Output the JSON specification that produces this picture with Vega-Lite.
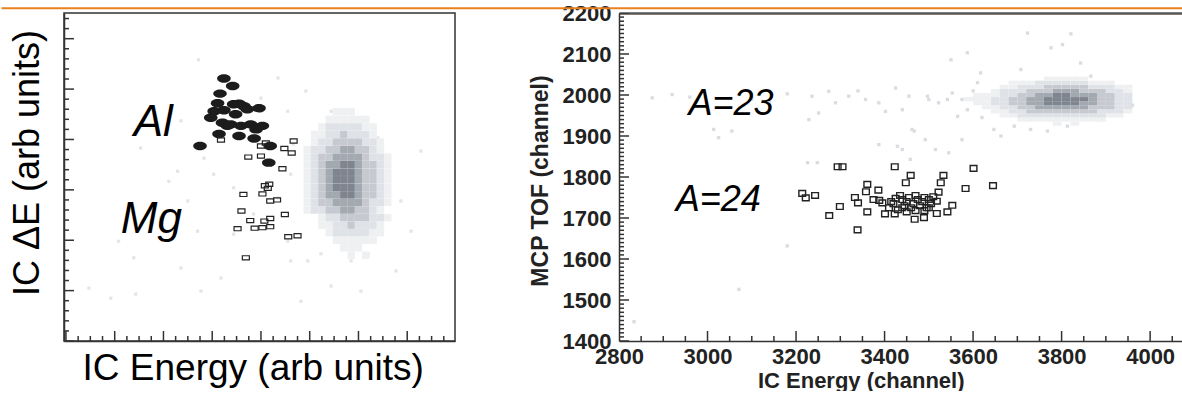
{
  "$schema": "https://vega.github.io/schema/vega-lite/v6.json",
  "padding": {"left": 0, "top": 2, "right": 0, "bottom": 0},
  "autosize": {"type": "pad"},
  "background": "white",
  "bounds": "flush",
  "spacing": 164,
  "config": {
    "font": "Liberation Sans",
    "axis": {"grid": false, "domainColor": "#333", "domainWidth": 1.5, "ticks": false, "tickSize": 0, "labelFlush": false, "labelOverlap": false, "labelBound": false, "zindex": 1}
  },
  "datasets": {
    "lxt": [
      {"v": 0, "k": "M"}, {"v": 2.5, "k": "m"}, {"v": 5, "k": "m"}, {"v": 7.5, "k": "m"}, {"v": 10, "k": "M"}, {"v": 12.5, "k": "m"}, {"v": 15, "k": "m"}, {"v": 17.5, "k": "m"},
      {"v": 20, "k": "M"}, {"v": 22.5, "k": "m"}, {"v": 25, "k": "m"}, {"v": 27.5, "k": "m"}, {"v": 30, "k": "M"}, {"v": 32.5, "k": "m"}, {"v": 35, "k": "m"}, {"v": 37.5, "k": "m"},
      {"v": 40, "k": "M"}, {"v": 42.5, "k": "m"}, {"v": 45, "k": "m"}, {"v": 47.5, "k": "m"}, {"v": 50, "k": "M"}, {"v": 52.5, "k": "m"}, {"v": 55, "k": "m"}, {"v": 57.5, "k": "m"},
      {"v": 60, "k": "M"}, {"v": 62.5, "k": "m"}, {"v": 65, "k": "m"}, {"v": 67.5, "k": "m"}, {"v": 70, "k": "M"}, {"v": 72.5, "k": "m"}, {"v": 75, "k": "m"}, {"v": 77.5, "k": "m"}
    ],
    "lyt": [
      {"v": 0, "k": "M"}, {"v": 2, "k": "m"}, {"v": 4, "k": "m"}, {"v": 6, "k": "m"}, {"v": 8, "k": "m"}, {"v": 10, "k": "M"}, {"v": 12, "k": "m"}, {"v": 14, "k": "m"}, {"v": 16, "k": "m"}, {"v": 18, "k": "m"},
      {"v": 20, "k": "M"}, {"v": 22, "k": "m"}, {"v": 24, "k": "m"}, {"v": 26, "k": "m"}, {"v": 28, "k": "m"}, {"v": 30, "k": "M"}, {"v": 32, "k": "m"}, {"v": 34, "k": "m"}, {"v": 36, "k": "m"}, {"v": 38, "k": "m"},
      {"v": 40, "k": "M"}, {"v": 42, "k": "m"}, {"v": 44, "k": "m"}, {"v": 46, "k": "m"}, {"v": 48, "k": "m"}, {"v": 50, "k": "M"}, {"v": 52, "k": "m"}, {"v": 54, "k": "m"}, {"v": 56, "k": "m"}, {"v": 58, "k": "m"},
      {"v": 60, "k": "M"}, {"v": 62, "k": "m"}, {"v": 64, "k": "m"}
    ],
    "rxt": [
      {"v": 2800, "k": "M"}, {"v": 2850, "k": "m"}, {"v": 2900, "k": "m"}, {"v": 2950, "k": "m"}, {"v": 3000, "k": "M"}, {"v": 3050, "k": "m"}, {"v": 3100, "k": "m"}, {"v": 3150, "k": "m"},
      {"v": 3200, "k": "M"}, {"v": 3250, "k": "m"}, {"v": 3300, "k": "m"}, {"v": 3350, "k": "m"}, {"v": 3400, "k": "M"}, {"v": 3450, "k": "m"}, {"v": 3500, "k": "m"}, {"v": 3550, "k": "m"},
      {"v": 3600, "k": "M"}, {"v": 3650, "k": "m"}, {"v": 3700, "k": "m"}, {"v": 3750, "k": "m"}, {"v": 3800, "k": "M"}, {"v": 3850, "k": "m"}, {"v": 3900, "k": "m"}, {"v": 3950, "k": "m"},
      {"v": 4000, "k": "M"}, {"v": 4050, "k": "m"}
    ],
    "ryt": [
      {"v": 1400, "k": "M"}, {"v": 1410, "k": "m"}, {"v": 1420, "k": "m"}, {"v": 1430, "k": "m"}, {"v": 1440, "k": "m"}, {"v": 1450, "k": "m"}, {"v": 1460, "k": "m"}, {"v": 1470, "k": "m"}, {"v": 1480, "k": "m"}, {"v": 1490, "k": "m"},
      {"v": 1500, "k": "M"}, {"v": 1510, "k": "m"}, {"v": 1520, "k": "m"}, {"v": 1530, "k": "m"}, {"v": 1540, "k": "m"}, {"v": 1550, "k": "m"}, {"v": 1560, "k": "m"}, {"v": 1570, "k": "m"}, {"v": 1580, "k": "m"}, {"v": 1590, "k": "m"},
      {"v": 1600, "k": "M"}, {"v": 1610, "k": "m"}, {"v": 1620, "k": "m"}, {"v": 1630, "k": "m"}, {"v": 1640, "k": "m"}, {"v": 1650, "k": "m"}, {"v": 1660, "k": "m"}, {"v": 1670, "k": "m"}, {"v": 1680, "k": "m"}, {"v": 1690, "k": "m"},
      {"v": 1700, "k": "M"}, {"v": 1710, "k": "m"}, {"v": 1720, "k": "m"}, {"v": 1730, "k": "m"}, {"v": 1740, "k": "m"}, {"v": 1750, "k": "m"}, {"v": 1760, "k": "m"}, {"v": 1770, "k": "m"}, {"v": 1780, "k": "m"}, {"v": 1790, "k": "m"},
      {"v": 1800, "k": "M"}, {"v": 1810, "k": "m"}, {"v": 1820, "k": "m"}, {"v": 1830, "k": "m"}, {"v": 1840, "k": "m"}, {"v": 1850, "k": "m"}, {"v": 1860, "k": "m"}, {"v": 1870, "k": "m"}, {"v": 1880, "k": "m"}, {"v": 1890, "k": "m"},
      {"v": 1900, "k": "M"}, {"v": 1910, "k": "m"}, {"v": 1920, "k": "m"}, {"v": 1930, "k": "m"}, {"v": 1940, "k": "m"}, {"v": 1950, "k": "m"}, {"v": 1960, "k": "m"}, {"v": 1970, "k": "m"}, {"v": 1980, "k": "m"}, {"v": 1990, "k": "m"},
      {"v": 2000, "k": "M"}, {"v": 2010, "k": "m"}, {"v": 2020, "k": "m"}, {"v": 2030, "k": "m"}, {"v": 2040, "k": "m"}, {"v": 2050, "k": "m"}, {"v": 2060, "k": "m"}, {"v": 2070, "k": "m"}, {"v": 2080, "k": "m"}, {"v": 2090, "k": "m"},
      {"v": 2100, "k": "M"}, {"v": 2110, "k": "m"}, {"v": 2120, "k": "m"}, {"v": 2130, "k": "m"}, {"v": 2140, "k": "m"}, {"v": 2150, "k": "m"}, {"v": 2160, "k": "m"}, {"v": 2170, "k": "m"}, {"v": 2180, "k": "m"}, {"v": 2190, "k": "m"},
      {"v": 2200, "k": "M"}
    ],
    "lsparse": [
      {"x": 27.2, "y": 55.8}, {"x": 22.9, "y": 33.7}, {"x": 21.1, "y": 31.7}, {"x": 15.3, "y": 38.3}, {"x": 10.8, "y": 19.8},
      {"x": 13.9, "y": 16.5}, {"x": 4.7, "y": 10.5}, {"x": 14.3, "y": 9.3}, {"x": 27.7, "y": 9.9}, {"x": 31.8, "y": 12.5},
      {"x": 34.4, "y": 21.2}, {"x": 19.4, "y": 24.4}, {"x": 23.6, "y": 14.5}, {"x": 27.0, "y": 21.8}, {"x": 45.5, "y": 19.8},
      {"x": 49.6, "y": 15.9}, {"x": 52.3, "y": 17.3}, {"x": 58.5, "y": 15.9}, {"x": 62.0, "y": 17.3}, {"x": 65.2, "y": 24.4},
      {"x": 66.1, "y": 33.1}, {"x": 64.0, "y": 40.3}, {"x": 59.9, "y": 42.3}, {"x": 49.2, "y": 49.6}, {"x": 45.5, "y": 45.6},
      {"x": 54.4, "y": 45.6}, {"x": 46.6, "y": 39.1}, {"x": 46.1, "y": 33.1}, {"x": 43.5, "y": 28.4}, {"x": 34.4, "y": 30.4},
      {"x": 30.3, "y": 33.1}, {"x": 28.3, "y": 36.3}, {"x": 25.0, "y": 27.8}, {"x": 9.2, "y": 8.5}, {"x": 17.4, "y": 23.8},
      {"x": 18.8, "y": 41.1}, {"x": 23.6, "y": 43.7}, {"x": 38.5, "y": 25.2}, {"x": 40.0, "y": 48.2}, {"x": 43.5, "y": 52.2},
      {"x": 68.7, "y": 27.8}, {"x": 70.8, "y": 21.8}, {"x": 67.7, "y": 13.9}, {"x": 48.2, "y": 7.9}, {"x": 54.4, "y": 10.9},
      {"x": 60.5, "y": 9.9}, {"x": 72.8, "y": 37.7}, {"x": 46.1, "y": 15.9}
    ],
    "lcells": [
      {"x": 58.5, "y": 17, "c": 1}, {"x": 61.5, "y": 17, "c": 1},
      {"x": 57, "y": 18.5, "c": 1}, {"x": 58.5, "y": 18.5, "c": 1}, {"x": 60, "y": 18.5, "c": 1},
      {"x": 55.5, "y": 20, "c": 1}, {"x": 57, "y": 20, "c": 1}, {"x": 58.5, "y": 20, "c": 1}, {"x": 60, "y": 20, "c": 1}, {"x": 61.5, "y": 20, "c": 1}, {"x": 63, "y": 20, "c": 1},
      {"x": 54, "y": 21.5, "c": 1}, {"x": 55.5, "y": 21.5, "c": 2}, {"x": 57, "y": 21.5, "c": 2}, {"x": 58.5, "y": 21.5, "c": 2}, {"x": 60, "y": 21.5, "c": 2}, {"x": 61.5, "y": 21.5, "c": 2}, {"x": 63, "y": 21.5, "c": 1}, {"x": 64.5, "y": 21.5, "c": 1},
      {"x": 52.5, "y": 23, "c": 1}, {"x": 54, "y": 23, "c": 1}, {"x": 55.5, "y": 23, "c": 2}, {"x": 57, "y": 23, "c": 2}, {"x": 58.5, "y": 23, "c": 3}, {"x": 60, "y": 23, "c": 2}, {"x": 61.5, "y": 23, "c": 2}, {"x": 63, "y": 23, "c": 2}, {"x": 64.5, "y": 23, "c": 1},
      {"x": 52.5, "y": 24.5, "c": 1}, {"x": 54, "y": 24.5, "c": 2}, {"x": 55.5, "y": 24.5, "c": 2}, {"x": 57, "y": 24.5, "c": 3}, {"x": 58.5, "y": 24.5, "c": 3}, {"x": 60, "y": 24.5, "c": 3}, {"x": 61.5, "y": 24.5, "c": 3}, {"x": 63, "y": 24.5, "c": 2}, {"x": 64.5, "y": 24.5, "c": 2}, {"x": 66, "y": 24.5, "c": 1},
      {"x": 49.5, "y": 26, "c": 1}, {"x": 51, "y": 26, "c": 2}, {"x": 52.5, "y": 26, "c": 2}, {"x": 54, "y": 26, "c": 3}, {"x": 55.5, "y": 26, "c": 3}, {"x": 57, "y": 26, "c": 4}, {"x": 58.5, "y": 26, "c": 4}, {"x": 60, "y": 26, "c": 3}, {"x": 61.5, "y": 26, "c": 3}, {"x": 63, "y": 26, "c": 2}, {"x": 64.5, "y": 26, "c": 1},
      {"x": 49.5, "y": 27.5, "c": 1}, {"x": 51, "y": 27.5, "c": 2}, {"x": 52.5, "y": 27.5, "c": 3}, {"x": 54, "y": 27.5, "c": 3}, {"x": 55.5, "y": 27.5, "c": 4}, {"x": 57, "y": 27.5, "c": 4}, {"x": 58.5, "y": 27.5, "c": 4}, {"x": 60, "y": 27.5, "c": 4}, {"x": 61.5, "y": 27.5, "c": 3}, {"x": 63, "y": 27.5, "c": 2}, {"x": 64.5, "y": 27.5, "c": 2}, {"x": 66, "y": 27.5, "c": 1},
      {"x": 49.5, "y": 29, "c": 1}, {"x": 51, "y": 29, "c": 2}, {"x": 52.5, "y": 29, "c": 3}, {"x": 54, "y": 29, "c": 4}, {"x": 55.5, "y": 29, "c": 4}, {"x": 57, "y": 29, "c": 5}, {"x": 58.5, "y": 29, "c": 5}, {"x": 60, "y": 29, "c": 4}, {"x": 61.5, "y": 29, "c": 3}, {"x": 63, "y": 29, "c": 3}, {"x": 64.5, "y": 29, "c": 2}, {"x": 66, "y": 29, "c": 1},
      {"x": 49.5, "y": 30.5, "c": 1}, {"x": 51, "y": 30.5, "c": 2}, {"x": 52.5, "y": 30.5, "c": 3}, {"x": 54, "y": 30.5, "c": 4}, {"x": 55.5, "y": 30.5, "c": 5}, {"x": 57, "y": 30.5, "c": 5}, {"x": 58.5, "y": 30.5, "c": 5}, {"x": 60, "y": 30.5, "c": 4}, {"x": 61.5, "y": 30.5, "c": 3}, {"x": 63, "y": 30.5, "c": 3}, {"x": 64.5, "y": 30.5, "c": 2}, {"x": 66, "y": 30.5, "c": 1},
      {"x": 49.5, "y": 32, "c": 1}, {"x": 51, "y": 32, "c": 2}, {"x": 52.5, "y": 32, "c": 3}, {"x": 54, "y": 32, "c": 4}, {"x": 55.5, "y": 32, "c": 5}, {"x": 57, "y": 32, "c": 5}, {"x": 58.5, "y": 32, "c": 5}, {"x": 60, "y": 32, "c": 4}, {"x": 61.5, "y": 32, "c": 3}, {"x": 63, "y": 32, "c": 3}, {"x": 64.5, "y": 32, "c": 2}, {"x": 66, "y": 32, "c": 1},
      {"x": 49.5, "y": 33.5, "c": 1}, {"x": 51, "y": 33.5, "c": 2}, {"x": 52.5, "y": 33.5, "c": 3}, {"x": 54, "y": 33.5, "c": 4}, {"x": 55.5, "y": 33.5, "c": 5}, {"x": 57, "y": 33.5, "c": 5}, {"x": 58.5, "y": 33.5, "c": 5}, {"x": 60, "y": 33.5, "c": 4}, {"x": 61.5, "y": 33.5, "c": 3}, {"x": 63, "y": 33.5, "c": 3}, {"x": 64.5, "y": 33.5, "c": 2}, {"x": 66, "y": 33.5, "c": 1},
      {"x": 49.5, "y": 35, "c": 1}, {"x": 51, "y": 35, "c": 2}, {"x": 52.5, "y": 35, "c": 3}, {"x": 54, "y": 35, "c": 4}, {"x": 55.5, "y": 35, "c": 4}, {"x": 57, "y": 35, "c": 5}, {"x": 58.5, "y": 35, "c": 5}, {"x": 60, "y": 35, "c": 4}, {"x": 61.5, "y": 35, "c": 3}, {"x": 63, "y": 35, "c": 3}, {"x": 64.5, "y": 35, "c": 2}, {"x": 66, "y": 35, "c": 1},
      {"x": 49.5, "y": 36.5, "c": 1}, {"x": 51, "y": 36.5, "c": 2}, {"x": 52.5, "y": 36.5, "c": 3}, {"x": 54, "y": 36.5, "c": 3}, {"x": 55.5, "y": 36.5, "c": 4}, {"x": 57, "y": 36.5, "c": 4}, {"x": 58.5, "y": 36.5, "c": 4}, {"x": 60, "y": 36.5, "c": 4}, {"x": 61.5, "y": 36.5, "c": 3}, {"x": 63, "y": 36.5, "c": 2}, {"x": 64.5, "y": 36.5, "c": 2}, {"x": 66, "y": 36.5, "c": 1},
      {"x": 49.5, "y": 38, "c": 1}, {"x": 51, "y": 38, "c": 2}, {"x": 52.5, "y": 38, "c": 2}, {"x": 54, "y": 38, "c": 3}, {"x": 55.5, "y": 38, "c": 3}, {"x": 57, "y": 38, "c": 4}, {"x": 58.5, "y": 38, "c": 4}, {"x": 60, "y": 38, "c": 3}, {"x": 61.5, "y": 38, "c": 3}, {"x": 63, "y": 38, "c": 2}, {"x": 64.5, "y": 38, "c": 1},
      {"x": 51, "y": 39.5, "c": 1}, {"x": 52.5, "y": 39.5, "c": 2}, {"x": 54, "y": 39.5, "c": 2}, {"x": 55.5, "y": 39.5, "c": 3}, {"x": 57, "y": 39.5, "c": 3}, {"x": 58.5, "y": 39.5, "c": 3}, {"x": 60, "y": 39.5, "c": 3}, {"x": 61.5, "y": 39.5, "c": 2}, {"x": 63, "y": 39.5, "c": 2}, {"x": 64.5, "y": 39.5, "c": 1},
      {"x": 51, "y": 41, "c": 1}, {"x": 52.5, "y": 41, "c": 1}, {"x": 54, "y": 41, "c": 2}, {"x": 55.5, "y": 41, "c": 2}, {"x": 57, "y": 41, "c": 3}, {"x": 58.5, "y": 41, "c": 2}, {"x": 60, "y": 41, "c": 2}, {"x": 61.5, "y": 41, "c": 2}, {"x": 63, "y": 41, "c": 1},
      {"x": 52.5, "y": 42.5, "c": 1}, {"x": 54, "y": 42.5, "c": 2}, {"x": 55.5, "y": 42.5, "c": 2}, {"x": 57, "y": 42.5, "c": 2}, {"x": 58.5, "y": 42.5, "c": 2}, {"x": 60, "y": 42.5, "c": 2}, {"x": 61.5, "y": 42.5, "c": 1}, {"x": 63, "y": 42.5, "c": 1},
      {"x": 54, "y": 44, "c": 1}, {"x": 55.5, "y": 44, "c": 1}, {"x": 57, "y": 44, "c": 1}, {"x": 58.5, "y": 44, "c": 1}, {"x": 60, "y": 44, "c": 1}, {"x": 61.5, "y": 44, "c": 1},
      {"x": 55.5, "y": 45.5, "c": 1}, {"x": 57, "y": 45.5, "c": 1}, {"x": 58.5, "y": 45.5, "c": 1}
    ],
    "lal": [
      {"x": 32.4, "y": 52.1}, {"x": 34.2, "y": 50.6}, {"x": 31.6, "y": 49.1}, {"x": 31.1, "y": 47.2}, {"x": 34.4, "y": 47.0},
      {"x": 35.5, "y": 47.1}, {"x": 36.5, "y": 46.6}, {"x": 32.4, "y": 45.8}, {"x": 34.8, "y": 45.0}, {"x": 37.2, "y": 46.0},
      {"x": 39.6, "y": 46.2}, {"x": 29.7, "y": 44.3}, {"x": 32.1, "y": 43.3}, {"x": 33.8, "y": 43.0}, {"x": 35.9, "y": 42.7},
      {"x": 37.9, "y": 43.0}, {"x": 40.3, "y": 42.7}, {"x": 39.0, "y": 42.0}, {"x": 31.4, "y": 41.1}, {"x": 35.5, "y": 40.7},
      {"x": 38.6, "y": 40.2}, {"x": 27.5, "y": 38.7}, {"x": 41.9, "y": 38.7}, {"x": 41.6, "y": 35.4}, {"x": 30.4, "y": 45.6},
      {"x": 33.1, "y": 42.7}
    ],
    "lmg": [
      {"x": 31.8, "y": 39.9}, {"x": 41.0, "y": 39.3}, {"x": 40.0, "y": 38.7}, {"x": 46.7, "y": 39.7}, {"x": 44.8, "y": 38.2},
      {"x": 46.3, "y": 37.3}, {"x": 37.4, "y": 36.5}, {"x": 40.0, "y": 36.7}, {"x": 44.4, "y": 34.2}, {"x": 41.7, "y": 31.1},
      {"x": 40.8, "y": 30.8}, {"x": 41.4, "y": 30.3}, {"x": 36.4, "y": 29.1}, {"x": 40.3, "y": 29.2}, {"x": 41.9, "y": 27.8},
      {"x": 43.3, "y": 28.0}, {"x": 36.0, "y": 25.8}, {"x": 44.9, "y": 25.1}, {"x": 37.8, "y": 23.9}, {"x": 40.7, "y": 23.8},
      {"x": 41.9, "y": 24.3}, {"x": 35.2, "y": 22.3}, {"x": 38.7, "y": 22.4}, {"x": 40.3, "y": 22.5}, {"x": 41.9, "y": 22.7},
      {"x": 45.6, "y": 20.7}, {"x": 47.5, "y": 20.9}, {"x": 36.9, "y": 16.5}
    ],
    "ltext": [
      {"x": 13.9, "y": 40.7, "t": "Al"},
      {"x": 11.25, "y": 21.5, "t": "Mg"}
    ],
    "rsparse": [
      {"x": 2875, "y": 1993}, {"x": 2920, "y": 2001}, {"x": 3014, "y": 1916}, {"x": 3055, "y": 1912}, {"x": 3025, "y": 1896},
      {"x": 3236, "y": 1997}, {"x": 3274, "y": 2009}, {"x": 3289, "y": 1981}, {"x": 3319, "y": 1997}, {"x": 3229, "y": 1940},
      {"x": 3251, "y": 1956}, {"x": 3357, "y": 1989}, {"x": 3387, "y": 1981}, {"x": 3402, "y": 1960}, {"x": 3425, "y": 2017},
      {"x": 3455, "y": 1997}, {"x": 3440, "y": 1964}, {"x": 3462, "y": 1916}, {"x": 3492, "y": 1891}, {"x": 3515, "y": 1867},
      {"x": 3545, "y": 1859}, {"x": 3575, "y": 1891}, {"x": 3387, "y": 1879}, {"x": 3440, "y": 1867}, {"x": 3458, "y": 1843},
      {"x": 3500, "y": 1989}, {"x": 3522, "y": 1981}, {"x": 3553, "y": 2005}, {"x": 3575, "y": 1989}, {"x": 3723, "y": 2151},
      {"x": 3821, "y": 2149}, {"x": 3587, "y": 2103}, {"x": 3550, "y": 2086}, {"x": 3071, "y": 1526}, {"x": 2834, "y": 1447},
      {"x": 3180, "y": 1632}, {"x": 3226, "y": 1835}, {"x": 3248, "y": 1835}, {"x": 3429, "y": 1875}, {"x": 3467, "y": 1912},
      {"x": 3708, "y": 2062}, {"x": 3776, "y": 2115}, {"x": 3802, "y": 2123}, {"x": 3843, "y": 2078}, {"x": 3617, "y": 2054},
      {"x": 3866, "y": 2046}, {"x": 3587, "y": 1964}, {"x": 3565, "y": 1948}, {"x": 3542, "y": 1989}, {"x": 3497, "y": 1997},
      {"x": 3647, "y": 1916}, {"x": 3693, "y": 1924}, {"x": 3730, "y": 1916}, {"x": 3768, "y": 1912}, {"x": 3813, "y": 1924},
      {"x": 3889, "y": 1940}, {"x": 3919, "y": 1997}, {"x": 3926, "y": 2013}, {"x": 3663, "y": 1900}, {"x": 3960, "y": 1975},
      {"x": 3945, "y": 2020}, {"x": 3600, "y": 2010}, {"x": 3620, "y": 1945}, {"x": 3140, "y": 1985}, {"x": 3180, "y": 2003},
      {"x": 3100, "y": 1990}, {"x": 2960, "y": 1995}, {"x": 3340, "y": 2010}, {"x": 3610, "y": 2030}
    ],
    "rcells": [
      {"x": 3790, "y": 1930, "c": 1}, {"x": 3830, "y": 1930, "c": 1},
      {"x": 3710, "y": 1940, "c": 1}, {"x": 3730, "y": 1940, "c": 1}, {"x": 3750, "y": 1940, "c": 1}, {"x": 3770, "y": 1940, "c": 1}, {"x": 3790, "y": 1940, "c": 1}, {"x": 3810, "y": 1940, "c": 1}, {"x": 3830, "y": 1940, "c": 1}, {"x": 3850, "y": 1940, "c": 1}, {"x": 3870, "y": 1940, "c": 1}, {"x": 3890, "y": 1940, "c": 1},
      {"x": 3670, "y": 1950, "c": 1}, {"x": 3690, "y": 1950, "c": 1}, {"x": 3710, "y": 1950, "c": 2}, {"x": 3730, "y": 1950, "c": 2}, {"x": 3750, "y": 1950, "c": 2}, {"x": 3770, "y": 1950, "c": 2}, {"x": 3790, "y": 1950, "c": 2}, {"x": 3810, "y": 1950, "c": 2}, {"x": 3830, "y": 1950, "c": 2}, {"x": 3850, "y": 1950, "c": 2}, {"x": 3870, "y": 1950, "c": 2}, {"x": 3890, "y": 1950, "c": 2}, {"x": 3910, "y": 1950, "c": 1}, {"x": 3930, "y": 1950, "c": 1},
      {"x": 3650, "y": 1960, "c": 1}, {"x": 3670, "y": 1960, "c": 1}, {"x": 3690, "y": 1960, "c": 2}, {"x": 3710, "y": 1960, "c": 2}, {"x": 3730, "y": 1960, "c": 3}, {"x": 3750, "y": 1960, "c": 3}, {"x": 3770, "y": 1960, "c": 3}, {"x": 3790, "y": 1960, "c": 3}, {"x": 3810, "y": 1960, "c": 3}, {"x": 3830, "y": 1960, "c": 3}, {"x": 3850, "y": 1960, "c": 3}, {"x": 3870, "y": 1960, "c": 3}, {"x": 3890, "y": 1960, "c": 2}, {"x": 3910, "y": 1960, "c": 2}, {"x": 3930, "y": 1960, "c": 2}, {"x": 3950, "y": 1960, "c": 1},
      {"x": 3630, "y": 1970, "c": 1}, {"x": 3650, "y": 1970, "c": 1}, {"x": 3670, "y": 1970, "c": 2}, {"x": 3690, "y": 1970, "c": 2}, {"x": 3710, "y": 1970, "c": 3}, {"x": 3730, "y": 1970, "c": 3}, {"x": 3750, "y": 1970, "c": 4}, {"x": 3770, "y": 1970, "c": 4}, {"x": 3790, "y": 1970, "c": 4}, {"x": 3810, "y": 1970, "c": 4}, {"x": 3830, "y": 1970, "c": 4}, {"x": 3850, "y": 1970, "c": 4}, {"x": 3870, "y": 1970, "c": 3}, {"x": 3890, "y": 1970, "c": 3}, {"x": 3910, "y": 1970, "c": 3}, {"x": 3930, "y": 1970, "c": 2}, {"x": 3950, "y": 1970, "c": 2},
      {"x": 3610, "y": 1980, "c": 1}, {"x": 3630, "y": 1980, "c": 1}, {"x": 3650, "y": 1980, "c": 2}, {"x": 3670, "y": 1980, "c": 2}, {"x": 3690, "y": 1980, "c": 3}, {"x": 3710, "y": 1980, "c": 3}, {"x": 3730, "y": 1980, "c": 4}, {"x": 3750, "y": 1980, "c": 4}, {"x": 3770, "y": 1980, "c": 5}, {"x": 3790, "y": 1980, "c": 5}, {"x": 3810, "y": 1980, "c": 5}, {"x": 3830, "y": 1980, "c": 5}, {"x": 3850, "y": 1980, "c": 4}, {"x": 3870, "y": 1980, "c": 4}, {"x": 3890, "y": 1980, "c": 3}, {"x": 3910, "y": 1980, "c": 3}, {"x": 3930, "y": 1980, "c": 2}, {"x": 3950, "y": 1980, "c": 2},
      {"x": 3590, "y": 1990, "c": 1}, {"x": 3610, "y": 1990, "c": 1}, {"x": 3630, "y": 1990, "c": 1}, {"x": 3650, "y": 1990, "c": 2}, {"x": 3670, "y": 1990, "c": 2}, {"x": 3690, "y": 1990, "c": 3}, {"x": 3710, "y": 1990, "c": 3}, {"x": 3730, "y": 1990, "c": 4}, {"x": 3750, "y": 1990, "c": 4}, {"x": 3770, "y": 1990, "c": 5}, {"x": 3790, "y": 1990, "c": 5}, {"x": 3810, "y": 1990, "c": 5}, {"x": 3830, "y": 1990, "c": 5}, {"x": 3850, "y": 1990, "c": 5}, {"x": 3870, "y": 1990, "c": 4}, {"x": 3890, "y": 1990, "c": 3}, {"x": 3910, "y": 1990, "c": 3}, {"x": 3930, "y": 1990, "c": 2}, {"x": 3950, "y": 1990, "c": 2},
      {"x": 3610, "y": 2000, "c": 1}, {"x": 3630, "y": 2000, "c": 1}, {"x": 3650, "y": 2000, "c": 1}, {"x": 3670, "y": 2000, "c": 2}, {"x": 3690, "y": 2000, "c": 2}, {"x": 3710, "y": 2000, "c": 3}, {"x": 3730, "y": 2000, "c": 3}, {"x": 3750, "y": 2000, "c": 4}, {"x": 3770, "y": 2000, "c": 4}, {"x": 3790, "y": 2000, "c": 5}, {"x": 3810, "y": 2000, "c": 5}, {"x": 3830, "y": 2000, "c": 4}, {"x": 3850, "y": 2000, "c": 4}, {"x": 3870, "y": 2000, "c": 4}, {"x": 3890, "y": 2000, "c": 3}, {"x": 3910, "y": 2000, "c": 3}, {"x": 3930, "y": 2000, "c": 2}, {"x": 3950, "y": 2000, "c": 2},
      {"x": 3650, "y": 2010, "c": 1}, {"x": 3670, "y": 2010, "c": 2}, {"x": 3690, "y": 2010, "c": 2}, {"x": 3710, "y": 2010, "c": 2}, {"x": 3730, "y": 2010, "c": 3}, {"x": 3750, "y": 2010, "c": 3}, {"x": 3770, "y": 2010, "c": 3}, {"x": 3790, "y": 2010, "c": 4}, {"x": 3810, "y": 2010, "c": 4}, {"x": 3830, "y": 2010, "c": 4}, {"x": 3850, "y": 2010, "c": 3}, {"x": 3870, "y": 2010, "c": 3}, {"x": 3890, "y": 2010, "c": 3}, {"x": 3910, "y": 2010, "c": 2}, {"x": 3930, "y": 2010, "c": 2}, {"x": 3950, "y": 2010, "c": 1},
      {"x": 3670, "y": 2020, "c": 1}, {"x": 3690, "y": 2020, "c": 1}, {"x": 3710, "y": 2020, "c": 2}, {"x": 3730, "y": 2020, "c": 2}, {"x": 3750, "y": 2020, "c": 2}, {"x": 3770, "y": 2020, "c": 3}, {"x": 3790, "y": 2020, "c": 3}, {"x": 3810, "y": 2020, "c": 3}, {"x": 3830, "y": 2020, "c": 3}, {"x": 3850, "y": 2020, "c": 3}, {"x": 3870, "y": 2020, "c": 2}, {"x": 3890, "y": 2020, "c": 2}, {"x": 3910, "y": 2020, "c": 2}, {"x": 3930, "y": 2020, "c": 1}, {"x": 3950, "y": 2020, "c": 1},
      {"x": 3690, "y": 2030, "c": 1}, {"x": 3710, "y": 2030, "c": 1}, {"x": 3730, "y": 2030, "c": 1}, {"x": 3750, "y": 2030, "c": 2}, {"x": 3770, "y": 2030, "c": 2}, {"x": 3790, "y": 2030, "c": 2}, {"x": 3810, "y": 2030, "c": 2}, {"x": 3830, "y": 2030, "c": 2}, {"x": 3850, "y": 2030, "c": 2}, {"x": 3870, "y": 2030, "c": 1}, {"x": 3890, "y": 2030, "c": 1}, {"x": 3910, "y": 2030, "c": 1},
      {"x": 3770, "y": 2040, "c": 1}, {"x": 3790, "y": 2040, "c": 1}, {"x": 3810, "y": 2040, "c": 1}, {"x": 3830, "y": 2040, "c": 1}, {"x": 3850, "y": 2040, "c": 1}
    ],
    "rsq": [
      {"x": 3214, "y": 1760}, {"x": 3222, "y": 1749}, {"x": 3243, "y": 1755}, {"x": 3294, "y": 1825}, {"x": 3305, "y": 1825},
      {"x": 3275, "y": 1706}, {"x": 3299, "y": 1728}, {"x": 3339, "y": 1671}, {"x": 3333, "y": 1750}, {"x": 3340, "y": 1737},
      {"x": 3361, "y": 1782}, {"x": 3358, "y": 1764}, {"x": 3386, "y": 1768}, {"x": 3361, "y": 1715}, {"x": 3375, "y": 1745},
      {"x": 3388, "y": 1743}, {"x": 3395, "y": 1737}, {"x": 3423, "y": 1825}, {"x": 3459, "y": 1804}, {"x": 3448, "y": 1786},
      {"x": 3533, "y": 1804}, {"x": 3527, "y": 1786}, {"x": 3601, "y": 1821}, {"x": 3583, "y": 1772}, {"x": 3645, "y": 1779},
      {"x": 3522, "y": 1763}, {"x": 3518, "y": 1741}, {"x": 3553, "y": 1731}, {"x": 3542, "y": 1715}, {"x": 3518, "y": 1711},
      {"x": 3468, "y": 1697}, {"x": 3489, "y": 1701}, {"x": 3401, "y": 1710}, {"x": 3423, "y": 1710},
      {"x": 3410, "y": 1725}, {"x": 3420, "y": 1735}, {"x": 3430, "y": 1720}, {"x": 3440, "y": 1745}, {"x": 3445, "y": 1730},
      {"x": 3450, "y": 1740}, {"x": 3455, "y": 1750}, {"x": 3460, "y": 1725}, {"x": 3465, "y": 1735}, {"x": 3470, "y": 1755},
      {"x": 3475, "y": 1745}, {"x": 3480, "y": 1730}, {"x": 3485, "y": 1740}, {"x": 3490, "y": 1750}, {"x": 3495, "y": 1725},
      {"x": 3500, "y": 1745}, {"x": 3505, "y": 1735}, {"x": 3510, "y": 1752}, {"x": 3435, "y": 1755}, {"x": 3425, "y": 1748},
      {"x": 3415, "y": 1740}, {"x": 3470, "y": 1718}, {"x": 3490, "y": 1718}, {"x": 3450, "y": 1715}, {"x": 3500, "y": 1725},
      {"x": 3440, "y": 1725}
    ],
    "rtext": [
      {"x": 2957, "y": 1952, "t": "A=23"},
      {"x": 2928, "y": 1717, "t": "A=24"}
    ],
    "rline": [
      {"x": 1405, "x2": 4072, "y": 2211.5}
    ]
  },
  "hconcat": [
    {
      "width": 391,
      "height": 328,
      "view": {"stroke": "#333", "strokeWidth": 1.5},
      "layer": [
        {
          "data": {"name": "lsparse"},
          "mark": {"type": "point", "shape": "square", "filled": true, "size": 10, "color": "#e2e4e8", "opacity": 1},
          "encoding": {
            "x": {"field": "x", "type": "quantitative", "scale": {"domain": [-0.4, 79.8], "nice": false, "zero": false},
              "axis": {"orient": "bottom", "labels": false,
                "title": "IC Energy (arb units)", "titleFont": "Liberation Sans", "titleFontSize": 37, "titleFontWeight": "normal", "titleColor": "#000", "titlePadding": 9, "titleX": 188.7}},
            "y": {"field": "y", "type": "quantitative", "scale": {"domain": [0, 65.1], "nice": false, "zero": false},
              "axis": {"orient": "left", "labels": false,
                "title": "IC ΔE (arb units)", "titleFont": "Liberation Sans", "titleFontSize": 36, "titleFontWeight": "normal", "titleColor": "#000", "titlePadding": 17.5, "titleY": 149.5}}
          }
        },
        {
          "data": {"name": "lcells"},
          "mark": {"type": "point", "shape": "square", "filled": true, "size": 56, "opacity": 1, "strokeWidth": 0},
          "encoding": {
            "x": {"field": "x", "type": "quantitative"},
            "y": {"field": "y", "type": "quantitative"},
            "color": {"field": "c", "type": "ordinal", "scale": {"domain": [1, 2, 3, 4, 5], "range": ["#eff0f2", "#dfe2e6", "#c6cad0", "#a3a9b1", "#7e858f"]}, "legend": null}
          }
        },
        {
          "data": {"name": "lxt"},
          "mark": {"type": "tick", "orient": "vertical", "clip": true, "thickness": 1.5, "color": "#333", "opacity": 1},
          "encoding": {
            "x": {"field": "v", "type": "quantitative"},
            "y": {"datum": 0, "type": "quantitative"},
            "size": {"field": "k", "type": "nominal", "scale": {"domain": ["M", "m"], "range": [20, 10]}, "legend": null}
          }
        },
        {
          "data": {"name": "lyt"},
          "mark": {"type": "tick", "orient": "horizontal", "clip": true, "thickness": 1.5, "color": "#333", "opacity": 1},
          "encoding": {
            "y": {"field": "v", "type": "quantitative"},
            "x": {"datum": -0.4, "type": "quantitative"},
            "size": {"field": "k", "type": "nominal", "scale": {"domain": ["M", "m"], "range": [16, 9]}, "legend": null}
          }
        },
        {
          "data": {"name": "lal"},
          "mark": {"type": "point", "shape": "M-1,0A1,0.62,0,1,0,1,0A1,0.62,0,1,0,-1,0Z", "filled": true, "size": 185, "color": "#1c1c1c", "opacity": 1},
          "encoding": {
            "x": {"field": "x", "type": "quantitative"},
            "y": {"field": "y", "type": "quantitative"}
          }
        },
        {
          "data": {"name": "lmg"},
          "mark": {"type": "point", "shape": "M-1,-0.6L1,-0.6L1,0.6L-1,0.6Z", "filled": false, "size": 49, "stroke": "#222", "strokeWidth": 1.2, "opacity": 1},
          "encoding": {
            "x": {"field": "x", "type": "quantitative"},
            "y": {"field": "y", "type": "quantitative"}
          }
        },
        {
          "data": {"name": "ltext"},
          "mark": {"type": "text", "font": "Liberation Sans", "fontStyle": "italic", "fontSize": 44, "align": "left", "baseline": "alphabetic", "color": "#000"},
          "encoding": {
            "x": {"field": "x", "type": "quantitative"},
            "y": {"field": "y", "type": "quantitative"},
            "text": {"field": "t"}
          }
        }
      ]
    },
    {
      "width": 563,
      "height": 328,
      "view": {"stroke": null},
      "resolve": {"axis": {"x": "independent"}},
      "layer": [
        {
          "data": {"name": "rsparse"},
          "mark": {"type": "point", "shape": "square", "filled": true, "size": 11, "color": "#d9dce1", "opacity": 1},
          "encoding": {
            "x": {"field": "x", "type": "quantitative", "scale": {"domain": [2800, 4072], "nice": false, "zero": false},
              "axis": {"orient": "bottom", "values": [2800, 3000, 3200, 3400, 3600, 3800, 4000], "format": "d", "labelPadding": 5,
                "labelFont": "Liberation Sans", "labelFontSize": 22, "labelFontWeight": "bold", "labelColor": "#222",
                "title": "IC Energy (channel)", "titleFont": "Liberation Sans", "titleFontSize": 22, "titleFontWeight": "bold", "titleColor": "#222", "titlePadding": 3, "titleX": 241.7}},
            "y": {"field": "y", "type": "quantitative", "scale": {"domain": [1400, 2200], "nice": false, "zero": false},
              "axis": {"orient": "left", "values": [1400, 1500, 1600, 1700, 1800, 1900, 2000, 2100, 2200], "format": "d", "labelPadding": 8,
                "labelFont": "Liberation Sans", "labelFontSize": 22, "labelFontWeight": "bold", "labelColor": "#222",
                "title": "MCP TOF (channel)", "titleFont": "Liberation Sans", "titleFontSize": 23, "titleFontWeight": "bold", "titleColor": "#222", "titlePadding": 10, "titleY": 167.5}}
          }
        },
        {
          "data": {"name": "rcells"},
          "mark": {"type": "point", "shape": "M-1,-0.4633L1,-0.4633L1,0.4633L-1,0.4633Z", "filled": true, "size": 78, "opacity": 1, "strokeWidth": 0},
          "encoding": {
            "x": {"field": "x", "type": "quantitative", "axis": null},
            "y": {"field": "y", "type": "quantitative"},
            "color": {"field": "c", "type": "ordinal", "scale": {"domain": [1, 2, 3, 4, 5], "range": ["#eff0f2", "#dfe2e6", "#c6cad0", "#a3a9b1", "#7e858f"]}, "legend": null}
          }
        },
        {
          "data": {"name": "rxt"},
          "mark": {"type": "tick", "orient": "vertical", "clip": true, "thickness": 1.5, "color": "#333", "opacity": 1},
          "encoding": {
            "x": {"field": "v", "type": "quantitative", "axis": null},
            "y": {"datum": 1400, "type": "quantitative"},
            "size": {"field": "k", "type": "nominal", "scale": {"domain": ["M", "m"], "range": [18, 10]}, "legend": null}
          }
        },
        {
          "data": {"name": "ryt"},
          "mark": {"type": "tick", "orient": "horizontal", "clip": true, "thickness": 1.5, "color": "#333", "opacity": 1},
          "encoding": {
            "y": {"field": "v", "type": "quantitative"},
            "x": {"datum": 2800, "type": "quantitative", "axis": null},
            "size": {"field": "k", "type": "nominal", "scale": {"domain": ["M", "m"], "range": [34, 16]}, "legend": null}
          }
        },
        {
          "data": {"name": "rsq"},
          "mark": {"type": "point", "shape": "M-1,-0.85L1,-0.85L1,0.85L-1,0.85Z", "filled": false, "size": 45, "stroke": "#222", "strokeWidth": 1.4, "opacity": 1},
          "encoding": {
            "x": {"field": "x", "type": "quantitative", "axis": {"orient": "top", "labels": false, "domain": true, "domainColor": "#555", "domainWidth": 2.5, "title": null}},
            "y": {"field": "y", "type": "quantitative"}
          }
        },
        {
          "data": {"name": "rtext"},
          "mark": {"type": "text", "font": "Liberation Sans", "fontStyle": "italic", "fontSize": 36, "align": "left", "baseline": "alphabetic", "color": "#000"},
          "encoding": {
            "x": {"field": "x", "type": "quantitative", "axis": null},
            "y": {"field": "y", "type": "quantitative"},
            "text": {"field": "t"}
          }
        },
        {
          "data": {"name": "rline"},
          "mark": {"type": "rule", "color": "#e8821e", "strokeWidth": 2, "clip": false},
          "encoding": {
            "x": {"field": "x", "type": "quantitative", "axis": null},
            "x2": {"field": "x2"},
            "y": {"field": "y", "type": "quantitative"}
          }
        }
      ]
    }
  ]
}
